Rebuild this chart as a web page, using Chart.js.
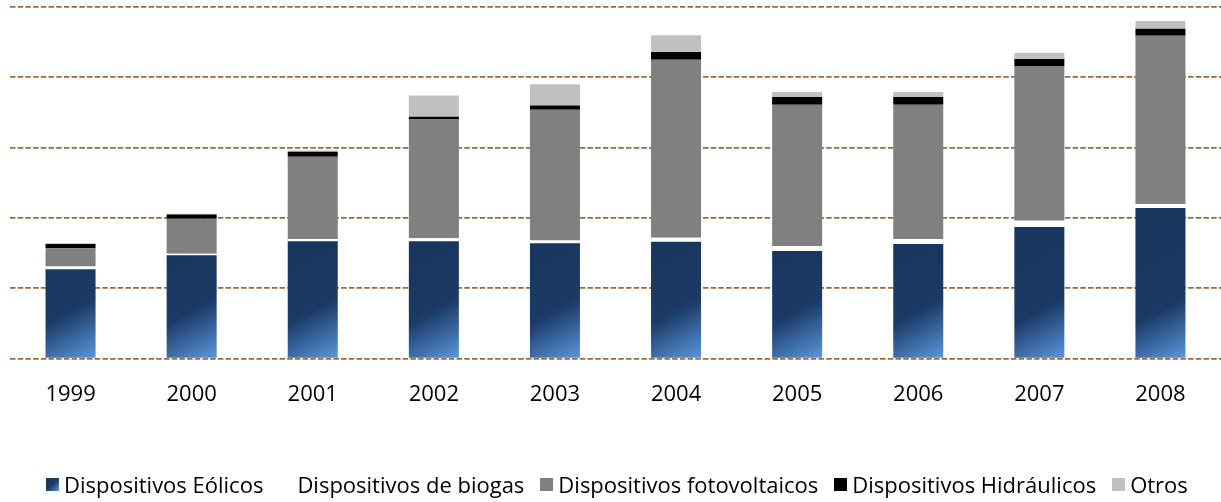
<!DOCTYPE html>
<html><head><meta charset="utf-8">
<script src="https://cdn.jsdelivr.net/npm/chart.js@4.4.1/dist/chart.umd.min.js"></script>
<style>
html,body{margin:0;padding:0;background:#fff;}
#wrap{position:relative;width:1221px;height:502px;}
#legend{position:absolute;left:46px;top:469px;height:30px;display:flex;align-items:center;font-family:'Open Sans',sans-serif;font-size:22px;color:#000;white-space:nowrap;}
#legend .it{display:flex;align-items:center;margin-right:16px;}
#legend .sw{width:13px;height:13px;margin-right:5px;}
</style></head>
<body>
<div id="wrap"><canvas id="c" width="1221" height="502"></canvas><div id="legend"></div></div>
<script>
const years = ['1999','2000','2001','2002','2003','2004','2005','2006','2007','2008'];
const eolicos = [127,147,167,167,164,166,153,163,187,214];
const biogas = [4,2,3,4,4,6,7,7,9,6];
const fotovoltaicos = [26,50,117,169,186,253,201,191,220,239];
const hidraulicos = [6,6,7,4,6,11,11,11,10,10];
const otros = [1,1,2,30,30,24,7,7,9,11];
const yTicks = [0,100,200,300,400,500];
const seriesNames = ['Dispositivos Eólicos','Dispositivos de biogas','Dispositivos fotovoltaicos','Dispositivos Hidráulicos','Otros'];

const FONT = "'Open Sans', sans-serif";
const BAR_PCT = 0.413;

function blueGrad(ctx){
  const chart = ctx.chart;
  const ca = chart.chartArea;
  if(!ca || ctx.type !== 'data') return '#1a3760';
  const xs = chart.scales.x, ys = chart.scales.y;
  const x = xs.getPixelForValue(ctx.dataIndex);
  const w = (ca.right - ca.left) / years.length * BAR_PCT;
  const base = ys.getPixelForValue(0);
  const g = chart.ctx.createLinearGradient(x - w/2, base - 95, x + w/2, base);
  g.addColorStop(0, '#19365e');
  g.addColorStop(0.5, '#1b3a66');
  g.addColorStop(1, '#5a98e0');
  return g;
}

const colors = [null,'#ffffff','#808080','#000000','#c0c0c0'];
const seriesData = [eolicos,biogas,fotovoltaicos,hidraulicos,otros];

const datasets = seriesData.map((d,i)=>({
  label: seriesNames[i],
  data: d,
  backgroundColor: i===0 ? blueGrad : colors[i],
  borderWidth: 0,
  barPercentage: BAR_PCT,
  categoryPercentage: 1.0,
  stack: 's'
}));

new Chart(document.getElementById('c'), {
  type: 'bar',
  data: { labels: years, datasets },
  options: {
    responsive: false,
    animation: false,
    layout: { padding: { left: 10, right: 0, top: 7, bottom: 71 } },
    plugins: { legend: { display: false }, tooltip: { enabled: false } },
    scales: {
      x: {
        stacked: true,
        grid: { display: false, drawTicks: false },
        border: { display: false },
        ticks: { color: '#000', padding: 23, maxRotation: 0, font: { family: FONT, size: 22 } }
      },
      y: {
        stacked: true,
        min: yTicks[0], max: yTicks[yTicks.length-1],
        afterBuildTicks: (s)=>{ s.ticks = yTicks.map(v=>({value:v})); },
        ticks: { display: false },
        border: { display: false, dash: [5.5,2.2] },
        grid: { color: '#9c6b3a', lineWidth: 1.7, drawTicks: false }
      }
    }
  }
});

// legend
const lg = document.getElementById('legend');
seriesNames.forEach((n,i)=>{
  const it = document.createElement('div'); it.className='it';
  const sw = document.createElement('div'); sw.className='sw';
  sw.style.background = i===0 ? 'linear-gradient(135deg,#19365e 0%,#1b3a66 50%,#5a98e0 100%)' : colors[i];
  it.appendChild(sw);
  const t = document.createElement('span'); t.textContent = n; it.appendChild(t);
  lg.appendChild(it);
});
</script>
</body></html>
